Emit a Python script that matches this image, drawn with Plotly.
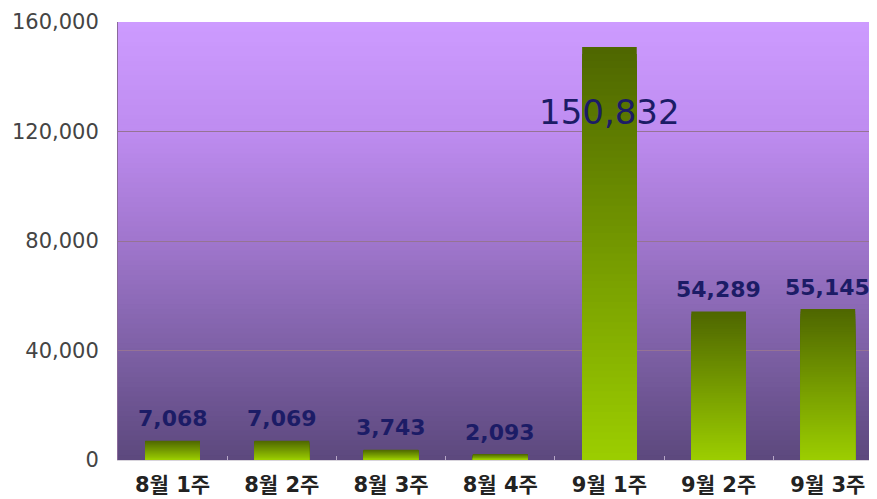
import plotly.graph_objects as go

categories = ["8월 1주", "8월 2주", "8월 3주", "8월 4주", "9월 1주", "9월 2주", "9월 3주"]
values = [7068, 7069, 3743, 2093, 150832, 54289, 55145]
y_ticks = [0, 40000, 80000, 120000, 160000]
y_tick_text = ["0", "40,000", "80,000", "120,000", "160,000"]


def lerp(c1, c2, t):
    return tuple(c1[i] + (c2[i] - c1[i]) * t for i in range(3))


def multi_stop(stops, t):
    for (p1, c1), (p2, c2) in zip(stops[:-1], stops[1:]):
        if p1 <= t <= p2:
            return lerp(c1, c2, (t - p1) / (p2 - p1) if p2 > p1 else 0)
    return stops[-1][1]


def rgb(c):
    return "rgb(%d,%d,%d)" % tuple(int(round(v)) for v in c)


fig = go.Figure()

# gradient bars: overlapping bars from tallest (darkest top) to shortest (lightest)
N = 60
bar_top = (78, 102, 0)
bar_bottom = (156, 206, 0)
for k in range(N):
    frac = (N - k) / N
    mid = (N - k - 0.5) / N
    fig.add_trace(go.Bar(
        x=categories,
        y=[v * frac for v in values],
        marker=dict(color=rgb(lerp(bar_bottom, bar_top, mid)), line=dict(width=0)),
        hoverinfo="skip",
        showlegend=False,
    ))

# background gradient (style only)
bg_stops = [
    (0.0, (92, 72, 125)),
    (0.25, (125, 96, 165)),
    (0.5, (160, 118, 205)),
    (0.75, (190, 140, 240)),
    (1.0, (205, 155, 255)),
]
shapes = []
M = 90
for i in range(M):
    y0 = i / M
    y1 = (i + 1) / M + 0.002
    shapes.append(dict(
        type="rect", xref="paper", yref="paper",
        x0=0, x1=1, y0=y0, y1=min(y1, 1),
        fillcolor=rgb(multi_stop(bg_stops, (i + 0.5) / M)),
        line=dict(width=0), layer="below",
    ))

annotations = []
for cat, v in zip(categories, values):
    big = v == max(values)
    annotations.append(dict(
        x=cat, y=v, xref="x", yref="y",
        text=f"{v:,}",
        showarrow=False,
        yanchor="middle",
        yshift=-65 if big else 22,
        font=dict(
            family="DejaVu Sans",
            size=34 if big else 22,
            color="#1c1c66",
            weight="normal" if big else "bold",
        ),
    ))

# the page body adds an 8px offset, so the figure is sized to fill the window
fig.update_layout(
    width=869, height=491,
    margin=dict(l=110, r=0, t=14, b=39),
    paper_bgcolor="white",
    plot_bgcolor="rgba(0,0,0,0)",
    barmode="overlay",
    bargap=0.5,
    shapes=shapes,
    annotations=annotations,
    showlegend=False,
)
fig.update_xaxes(
    type="category",
    range=[-0.5, 6.45],
    automargin=False,
    showgrid=False,
    showline=True, linecolor="#d8d4dc", linewidth=1,
    ticks="inside", tickson="boundaries", ticklen=4, tickcolor="#b8a8c8",
    tickfont=dict(family="DejaVu Sans, Noto Sans CJK KR", size=21, color="#222222", weight="bold"),
    ticklabelstandoff=6,
)
fig.update_yaxes(
    range=[0, 160000],
    automargin=False,
    tickvals=y_ticks, ticktext=y_tick_text,
    showgrid=True, gridcolor="#967394", gridwidth=1,
    zeroline=False,
    showline=True, linecolor="#8a6a9a", linewidth=1,
    tickfont=dict(family="DejaVu Sans", size=21, color="#444444"),
    ticklabelstandoff=14,
)

fig.write_html("out.html")
